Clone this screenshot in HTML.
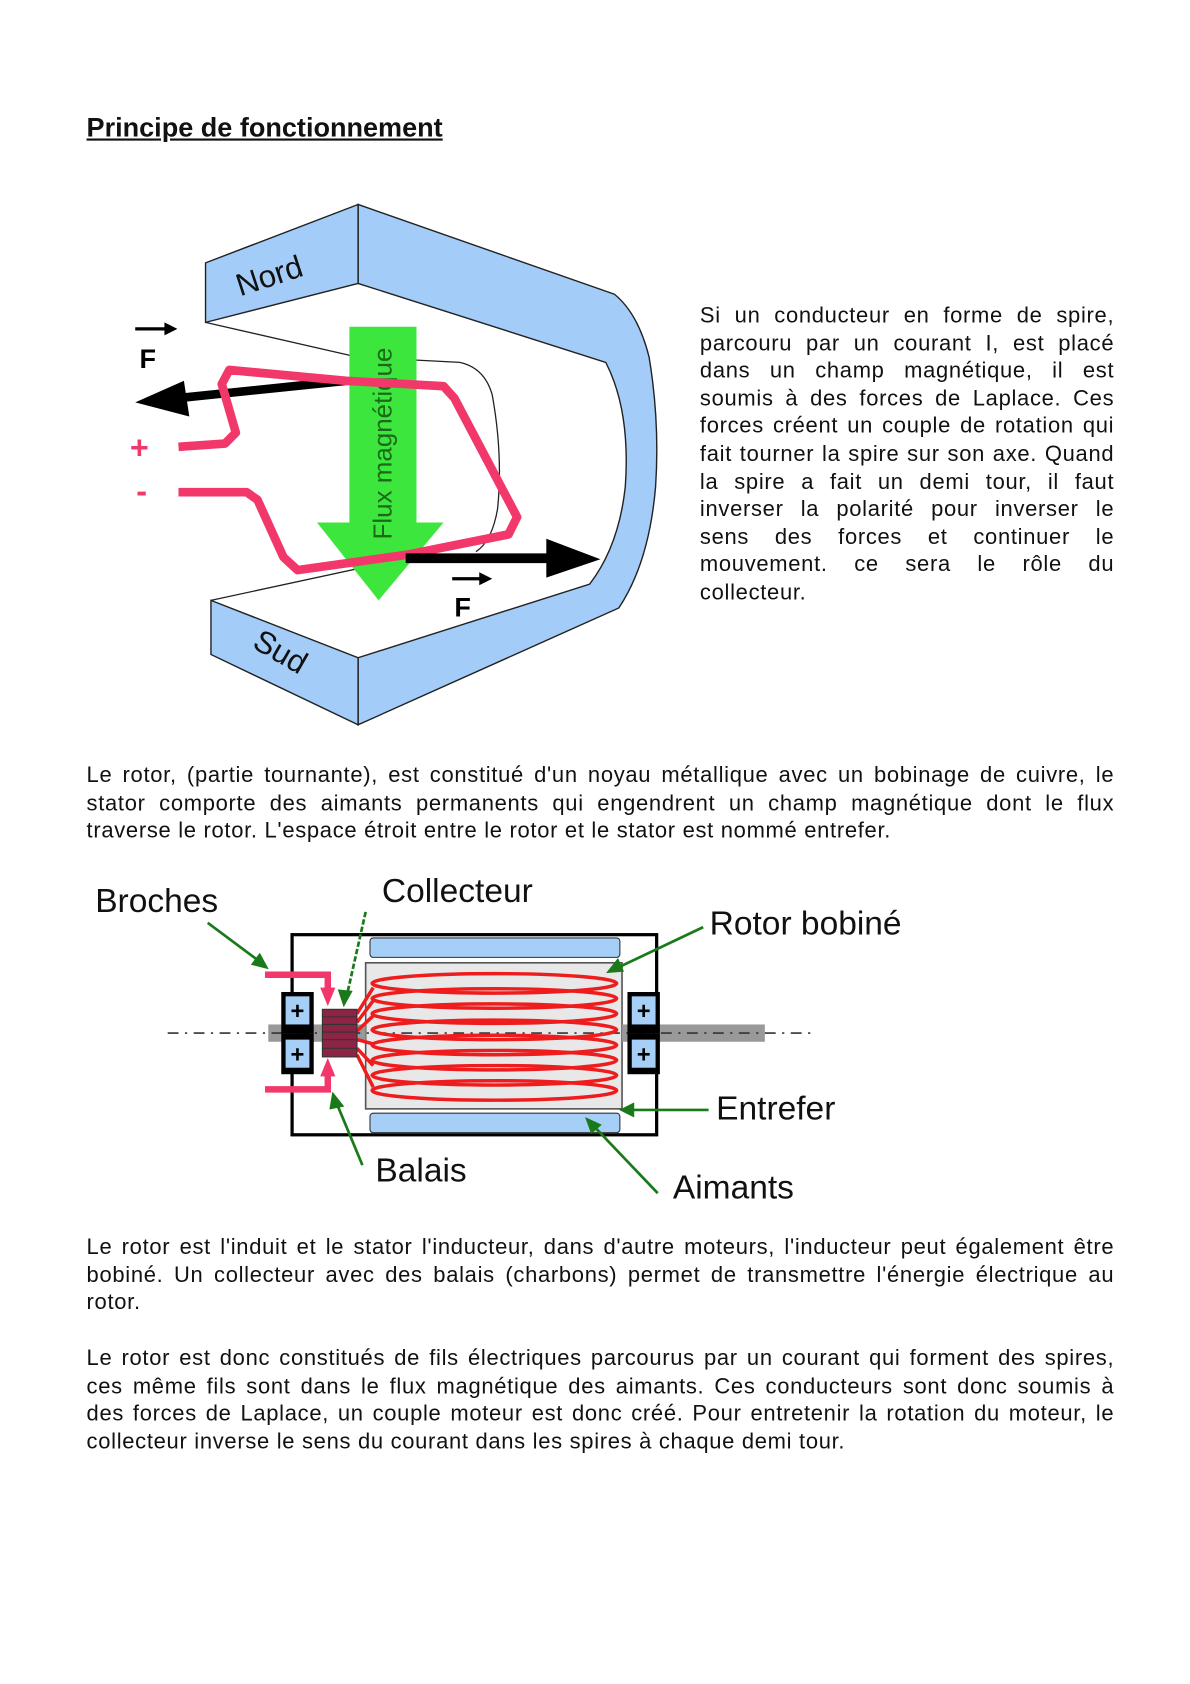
<!DOCTYPE html>
<html><head><meta charset="utf-8"><style>
html,body{margin:0;padding:0;background:#fff;}
body{width:1190px;height:1684px;overflow:hidden;position:relative;}
#w{position:absolute;left:0;top:0;width:1100px;height:1557px;transform:scale(1.0818);transform-origin:0 0;font-family:"Liberation Sans",Arial,sans-serif;color:#111;}
.p{position:absolute;font-size:20.3px;letter-spacing:0.65px;line-height:25.6px;text-align:justify;}
.p span.l{display:block;text-align:justify;text-align-last:justify;white-space:nowrap;}
.p span.e{display:block;white-space:nowrap;}
h1{position:absolute;left:80px;top:104px;margin:0;font-size:25px;font-weight:bold;text-decoration:underline;}
svg{position:absolute;left:0;top:0;}
</style></head><body><div id="w">
<h1>Principe de fonctionnement</h1>
<div class="p" style="left:647px;top:280px;width:383px;">
<span class="l">Si un conducteur en forme de spire,</span>
<span class="l">parcouru par un courant I, est placé</span>
<span class="l">dans un champ magnétique, il est</span>
<span class="l">soumis à des forces de Laplace. Ces</span>
<span class="l">forces créent un couple de rotation qui</span>
<span class="l">fait tourner la spire sur son axe. Quand</span>
<span class="l">la spire a fait un demi tour, il faut</span>
<span class="l">inverser la polarité pour inverser le</span>
<span class="l">sens des forces et continuer le</span>
<span class="l">mouvement. ce sera le rôle du</span>
<span class="e">collecteur.</span>
</div>
<div class="p" style="left:80px;top:705px;width:950px;">
<span class="l">Le rotor, (partie tournante), est constitué d'un noyau métallique avec un bobinage de cuivre, le</span>
<span class="l">stator comporte des aimants permanents qui engendrent un champ magnétique dont le flux</span>
<span class="e">traverse le rotor. L'espace étroit entre le rotor et le stator est nommé entrefer.</span>
</div>
<div class="p" style="left:80px;top:1141px;width:950px;">
<span class="l">Le rotor est l'induit et le stator l'inducteur, dans d'autre moteurs, l'inducteur peut également être</span>
<span class="l">bobiné. Un collecteur avec des balais (charbons) permet de transmettre l'énergie électrique au</span>
<span class="e">rotor.</span>
</div>
<div class="p" style="left:80px;top:1244px;width:950px;">
<span class="l">Le rotor est donc constitués de fils électriques parcourus par un courant qui forment des spires,</span>
<span class="l">ces même fils sont dans le flux magnétique des aimants. Ces conducteurs sont donc soumis à</span>
<span class="l">des forces de Laplace, un couple moteur est donc créé. Pour entretenir la rotation du moteur, le</span>
<span class="e">collecteur inverse le sens du courant dans les spires à chaque demi tour.</span>
</div>
<svg width="1100" height="1557" viewBox="0 0 1100 1557" font-family="Liberation Sans, Arial, sans-serif">
<g stroke="#222" stroke-width="1.3" fill="#a3cdf8">
<path d="M331,189 L568,272 Q590,290 600,330 Q610,390 606,450 Q600,520 572,562 L331,670 L331,608 L545,540 Q572,505 578,450 Q583,380 560,335 L331,262 Z"/>
<path d="M190,243 L331,189 L331,262 L190,298 Z"/>
<path d="M195,555 L331,608 L331,670 L195,605 Z"/>
</g>
<path d="M190,298 L330,330 L425,335 Q448,340 455,365 Q465,420 460,470 Q455,500 440,510" fill="none" stroke="#222" stroke-width="1.2"/>
<path d="M195,555 L380,515" fill="none" stroke="#222" stroke-width="1.2"/>
<path d="M323,302 L385,302 L385,483 L410,483 L350,555 L293,483 L323,483 Z" fill="#3de63d"/>
<text transform="translate(362,410) rotate(-90)" text-anchor="middle" font-size="24" fill="#1a6a1a">Flux magnétique</text>
<path d="M320,352 L165,368" stroke="#000" stroke-width="8"/>
<path d="M125,372 L170,352 L175,385 Z" fill="#000"/>
<path d="M165,413 L208,410 L218,400 L205,355 L212,342 L320,352 L410,357 L420,368 L478,478 L470,494 L375,513 L275,527 L262,515 L238,462 L228,455 L165,455" fill="none" stroke="#f2386a" stroke-width="8" stroke-linejoin="round"/>
<path d="M375,516 L510,516" stroke="#000" stroke-width="9"/>
<path d="M505,498 L555,517 L505,534 Z" fill="#000"/>
<text x="129" y="340" font-size="25" font-weight="bold">F</text>
<path d="M125,304 L155,304" stroke="#000" stroke-width="3"/><path d="M152,298 L164,304 L152,310 Z"/>
<text x="420" y="570" font-size="25" font-weight="bold">F</text>
<path d="M418,535 L446,535" stroke="#000" stroke-width="3"/><path d="M443,529 L455,535 L443,541 Z"/>
<text x="120" y="424" font-size="30" font-weight="bold" fill="#f2386a">+</text>
<text x="126" y="464" font-size="30" font-weight="bold" fill="#f2386a">-</text>
<text transform="translate(222,274) rotate(-18)" font-size="29" fill="#111">Nord</text>
<text transform="translate(232,598) rotate(30)" font-size="29" fill="#111">Sud</text>

<g transform="translate(0,-5)">
<rect x="270" y="869" width="337" height="185" fill="#fff" stroke="#000" stroke-width="3"/>
<rect x="342" y="872" width="231" height="18" rx="3" fill="#a6cff7" stroke="#333" stroke-width="1"/>
<rect x="342" y="1034" width="231" height="18" rx="3" fill="#a6cff7" stroke="#333" stroke-width="1"/>
<rect x="338" y="895" width="237" height="135" fill="#e8e8e8" stroke="#555" stroke-width="1.5"/>
<rect x="248" y="952" width="90" height="16" fill="#999"/>
<rect x="575" y="952" width="132" height="16" fill="#999"/>
<line x1="155" y1="960" x2="755" y2="960" stroke="#333" stroke-width="1.5" stroke-dasharray="10,6,2,6"/>
<g fill="none" stroke="#ee1c1c" stroke-width="3.2">
<ellipse cx="457" cy="914" rx="113" ry="9"/>
<ellipse cx="457" cy="928" rx="113" ry="9"/>
<ellipse cx="457" cy="942" rx="113" ry="9"/>
<ellipse cx="457" cy="957" rx="113" ry="9"/>
<ellipse cx="457" cy="971" rx="113" ry="9"/>
<ellipse cx="457" cy="985" rx="113" ry="9"/>
<ellipse cx="457" cy="999" rx="113" ry="9"/>
<ellipse cx="457" cy="1013" rx="113" ry="9"/>
<path d="M330,942 L345,918 M330,950 L345,930 M330,958 L345,944 M330,966 L345,970 M330,974 L345,990 M330,980 L345,1010"/>
</g>
<rect x="298" y="938" width="32" height="44" fill="#8c2445" stroke="#333"/>
<g stroke="#333" stroke-width="1"><line x1="298" y1="945" x2="330" y2="945"/><line x1="298" y1="952" x2="330" y2="952"/><line x1="298" y1="959" x2="330" y2="959"/><line x1="298" y1="966" x2="330" y2="966"/><line x1="298" y1="974" x2="330" y2="974"/></g>
<g>
<rect x="260" y="922" width="30" height="38" fill="#000"/><rect x="264" y="926" width="22" height="26" fill="#a6cff7"/>
<rect x="260" y="960" width="30" height="38" fill="#000"/><rect x="264" y="966" width="22" height="26" fill="#a6cff7"/>
<rect x="580" y="922" width="30" height="38" fill="#000"/><rect x="584" y="926" width="22" height="26" fill="#a6cff7"/>
<rect x="580" y="960" width="30" height="38" fill="#000"/><rect x="584" y="966" width="22" height="26" fill="#a6cff7"/>
<g font-size="22" font-weight="bold" text-anchor="middle"><text x="275" y="947">+</text><text x="275" y="987">+</text><text x="595" y="947">+</text><text x="595" y="987">+</text></g>
</g>
<g stroke="#f2386a" stroke-width="6" fill="none"><path d="M245,906 L303,906 L303,920"/><path d="M245,1012 L303,1012 L303,998"/></g>
<path d="M296,918 L310,918 L303,935 Z M296,1000 L310,1000 L303,983 Z" fill="#f2386a"/>
<g stroke="#1a7a1a" stroke-width="2.5" fill="#1a7a1a">
<line x1="192" y1="858" x2="243" y2="896"/><path d="M246,899 L234,896 L240,888 Z"/>
<line x1="338" y1="848" x2="320" y2="928" stroke-dasharray="5,2"/><path d="M318,933 L314,921 L324,922 Z"/>
<line x1="650" y1="862" x2="570" y2="900"/><path d="M563,903 L571,893 L575,902 Z"/>
<line x1="655" y1="1031" x2="580" y2="1031"/><path d="M575,1031 L585,1026 L585,1036 Z"/>
<line x1="335" y1="1082" x2="310" y2="1022"/><path d="M308,1017 L316,1027 L306,1029 Z"/>
<line x1="608" y1="1108" x2="547" y2="1044"/><path d="M543,1040 L554,1045 L547,1051 Z"/>
</g>
<g font-size="31" fill="#111">
<text x="88" y="848">Broches</text>
<text x="353" y="839">Collecteur</text>
<text x="656" y="869">Rotor bobiné</text>
<text x="662" y="1040">Entrefer</text>
<text x="347" y="1097">Balais</text>
<text x="622" y="1113">Aimants</text>
</g>
</g>
</svg>
</div></body></html>
